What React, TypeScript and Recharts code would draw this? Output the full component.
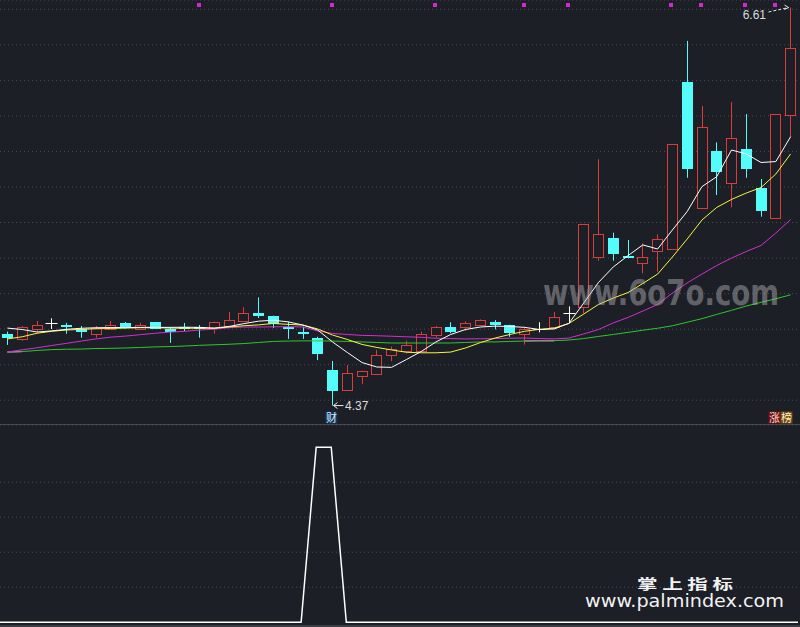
import { ComposedChart, Bar, Line, Scatter, XAxis, YAxis, CartesianGrid } from 'recharts'

// daily candles
const opens = [
  4.773, 4.743, 4.799, 4.833, 4.825, 4.799, 4.771, 4.802, 4.836, 4.799,
  4.840, 4.802, 4.810, 4.812, 4.805, 4.820, 4.848, 4.891, 4.876, 4.810,
  4.786, 4.748, 4.570, 4.458, 4.538, 4.547, 4.656, 4.677, 4.679, 4.767,
  4.812, 4.810, 4.822, 4.839, 4.825, 4.771, 4.801, 4.814, 4.889, 4.923,
  5.208, 5.311, 5.212, 5.170, 5.241, 5.249, 6.191, 5.480, 5.801, 5.621,
  5.814, 5.593, 5.424, 6.003,
]
const highs = [
  4.786, 4.818, 4.846, 4.861, 4.835, 4.818, 4.818, 4.846, 4.840, 4.836,
  4.840, 4.806, 4.835, 4.823, 4.842, 4.897, 4.923, 4.979, 4.876, 4.842,
  4.814, 4.757, 4.621, 4.598, 4.566, 4.684, 4.702, 4.735, 4.786, 4.818,
  4.839, 4.844, 4.855, 4.851, 4.825, 4.814, 4.839, 4.897, 4.928, 5.390,
  5.756, 5.343, 5.302, 5.283, 5.334, 5.840, 6.422, 6.056, 5.851, 6.078,
  6.010, 5.645, 6.009, 6.610,
]
const lows = [
  4.711, 4.735, 4.786, 4.801, 4.774, 4.752, 4.752, 4.795, 4.802, 4.799,
  4.801, 4.723, 4.788, 4.752, 4.774, 4.820, 4.848, 4.863, 4.806, 4.745,
  4.745, 4.626, 4.370, 4.458, 4.490, 4.547, 4.620, 4.663, 4.679, 4.752,
  4.777, 4.790, 4.822, 4.799, 4.757, 4.713, 4.782, 4.799, 4.833, 4.889,
  5.185, 5.185, 5.199, 5.114, 5.123, 5.249, 5.652, 5.480, 5.555, 5.486,
  5.652, 5.433, 5.424, 5.880,
]
const closes = [
  4.748, 4.810, 4.823, 4.833, 4.814, 4.786, 4.808, 4.823, 4.808, 4.821,
  4.801, 4.786, 4.801, 4.802, 4.839, 4.850, 4.890, 4.876, 4.829, 4.799,
  4.777, 4.661, 4.454, 4.551, 4.566, 4.656, 4.689, 4.711, 4.771, 4.814,
  4.786, 4.833, 4.851, 4.823, 4.777, 4.801, 4.801, 4.871, 4.889, 5.390,
  5.334, 5.223, 5.199, 5.208, 5.309, 5.840, 5.703, 5.939, 5.686, 5.874,
  5.703, 5.466, 6.009, 6.380,
]

// moving averages as drawn
const ma5 = [
  4.806, 4.798, 4.784, 4.790, 4.799, 4.805, 4.808, 4.809, 4.809, 4.810,
  4.810, 4.810, 4.811, 4.810, 4.806, 4.815, 4.831, 4.845, 4.850, 4.841,
  4.823, 4.795, 4.728, 4.669, 4.612, 4.587, 4.585, 4.629, 4.674, 4.728,
  4.770, 4.798, 4.812, 4.817, 4.815, 4.810, 4.798, 4.801, 4.833, 4.947,
  5.063, 5.150, 5.214, 5.274, 5.251, 5.358, 5.462, 5.602, 5.658, 5.808,
  5.786, 5.738, 5.743, 5.883,
]
const ma10 = [
  4.745, 4.757, 4.777, 4.788, 4.795, 4.799, 4.802, 4.804, 4.806, 4.808,
  4.808, 4.806, 4.805, 4.805, 4.805, 4.812, 4.819, 4.824, 4.832, 4.827,
  4.823, 4.801, 4.767, 4.742, 4.714, 4.697, 4.683, 4.670, 4.667, 4.667,
  4.671, 4.694, 4.724, 4.750, 4.770, 4.788, 4.799, 4.806, 4.832, 4.885,
  4.939, 4.975, 5.006, 5.057, 5.110, 5.206, 5.307, 5.414, 5.485, 5.530,
  5.566, 5.597, 5.673, 5.786,
]
const ma20 = [
  4.671, 4.684, 4.695, 4.708, 4.720, 4.733, 4.745, 4.755, 4.761, 4.769,
  4.777, 4.783, 4.788, 4.795, 4.800, 4.808, 4.812, 4.812, 4.813, 4.814,
  4.812, 4.790, 4.776, 4.770, 4.765, 4.763, 4.760, 4.757, 4.754, 4.749,
  4.747, 4.745, 4.746, 4.747, 4.749, 4.750, 4.747, 4.745, 4.750, 4.773,
  4.798, 4.835, 4.866, 4.902, 4.939, 5.003, 5.060, 5.110, 5.158, 5.200,
  5.237, 5.271, 5.341, 5.417,
]
const ma60 = [
  4.671, 4.674, 4.680, 4.685, 4.687, 4.688, 4.691, 4.692, 4.694, 4.697,
  4.700, 4.702, 4.705, 4.709, 4.712, 4.715, 4.719, 4.725, 4.731, 4.733,
  4.734, 4.734, 4.733, 4.731, 4.728, 4.725, 4.722, 4.722, 4.722, 4.722,
  4.722, 4.725, 4.728, 4.728, 4.731, 4.733, 4.735, 4.735, 4.739, 4.747,
  4.759, 4.770, 4.782, 4.794, 4.805, 4.819, 4.839, 4.859, 4.883, 4.906,
  4.930, 4.951, 4.971, 4.993,
]
// short grey stretches lying over the long average
const greyDays = [0, 1, 35, 36, 37]
// days carrying the magenta marker along the top
const signalDays = [13, 22, 29, 35, 38, 45, 47, 50, 52]
// lower panel signal
const indicator = [
  0, 0, 0, 0, 0, 0, 0, 0, 0, 0,
  0, 0, 0, 0, 0, 0, 0, 0, 0, 0,
  0, 1, 1, 0, 0, 0, 0, 0, 0, 0,
  0, 0, 0, 0, 0, 0, 0, 0, 0, 0,
  0, 0, 0, 0, 0, 0, 0, 0, 0, 0,
  0, 0, 0, 0,
]
const priceTicks = [4.4, 4.6, 4.8, 5.0, 5.2, 5.4, 5.6, 5.8, 6.0, 6.2, 6.4, 6.6]
const indicatorTicks = [0.2, 0.4, 0.6, 0.8]

const badges = [
  { day: 22, align: 'center', items: [{ text: '财', bg: '#123659', fg: '#d6eaff' }] },
  {
    day: 53,
    align: 'end',
    items: [
      { text: '涨', bg: '#6c1111', fg: '#ffd8d8' },
      { text: '榜', bg: '#6e4813', fg: '#ffecc8' },
    ],
  },
]

const BG = '#1d1f26'
const RED = '#d83c3c'
const CYAN = '#55fcfc'
const GRID = '#4a4d55'
const PRICE_H = 425
const IND_H = 202
const PRICE_DOMAIN: [number, number] = [4.2606, 6.6523]
const IND_DOMAIN: [number, number] = [-0.027, 1.127]
const SIGNAL_LEVEL = 6.6225
const FONT = '"Liberation Sans", "Noto Sans", sans-serif'
const CJK = '"Noto Sans CJK SC", sans-serif'

const days = opens.map((_, i) => i)
const maxDay = highs.indexOf(Math.max(...highs))
const minDay = lows.indexOf(Math.min(...lows))

const priceData = days.map((d, i) => ({
  day: d,
  open: opens[i],
  high: highs[i],
  low: lows[i],
  close: closes[i],
  ma5: ma5[i],
  ma10: ma10[i],
  ma20: ma20[i],
  ma60: ma60[i],
  grey: greyDays.includes(d) ? ma60[i] : null,
  sig: signalDays.includes(d) ? SIGNAL_LEVEL : null,
}))

const indicatorData = days.map((d, i) => ({ day: d, value: indicator[i] }))

function Candle(props: any) {
  const { x, y, width, height, payload } = props
  if (!payload || x == null || y == null) return <g />
  const { day, open, close, high, low } = payload
  const top = Math.min(y, y + height)
  const h = Math.abs(height)
  const py = (v: number) => top + ((high - v) / (high - low)) * h
  const cx = Math.floor(x + width / 2) + 0.5
  const yh = py(high)
  const yl = py(low)
  const yo = py(open)
  const yc = py(close)

  let body
  if (close > open) {
    const bt = Math.round(yc) + 0.5
    const bb = Math.round(yo) + 0.5
    body = (
      <g>
        <line x1={cx} x2={cx} y1={yh} y2={bt} stroke={RED} />
        <line x1={cx} x2={cx} y1={bb} y2={yl} stroke={RED} />
        <rect x={cx - 5} y={bt} width={10} height={Math.max(bb - bt, 1)} fill={BG} stroke={RED} />
      </g>
    )
  } else if (close < open) {
    const bt = Math.round(yo)
    const bb = Math.round(yc)
    body = (
      <g>
        <line x1={cx} x2={cx} y1={yh} y2={yl} stroke={CYAN} />
        <rect x={cx - 5.5} y={bt} width={11} height={Math.max(bb - bt, 2)} fill={CYAN} />
      </g>
    )
  } else {
    const by = Math.round(yo) + 0.5
    body = (
      <g>
        <line x1={cx} x2={cx} y1={yh} y2={yl} stroke="#ffffff" />
        <line x1={cx - 6} x2={cx + 6} y1={by} y2={by} stroke="#ffffff" />
      </g>
    )
  }

  const badge = badges.find((b) => b.day === day)
  let badgeEl = null
  if (badge) {
    const w = 12
    const total = w * badge.items.length
    const left = badge.align === 'end' ? cx + 2 - total : cx - 1 - total / 2
    const by = PRICE_H - 13.5
    badgeEl = (
      <g>
        {badge.items.map((it, k) => (
          <g key={k}>
            <rect x={left + k * w} y={by} width={w} height={12} fill={it.bg} />
            <text
              x={left + k * w + w / 2}
              y={by + 10}
              textAnchor="middle"
              fontSize={11}
              fontFamily={CJK}
              fill={it.fg}
            >
              {it.text}
            </text>
          </g>
        ))}
      </g>
    )
  }

  return (
    <g>
      {body}
      {day === maxDay && (
        <g>
          <text x={cx - 24.5} y={yh + 11} textAnchor="end" fontSize={12} fontFamily={FONT} fill="#dcdcdc">
            {high.toFixed(2)}
          </text>
          <line x1={cx - 22} y1={yh + 4.5} x2={cx - 2} y2={yh} stroke="#e8e8e8" strokeDasharray="3 2" />
          <polyline
            points={`${cx - 6},${yh - 2.5} ${cx - 2},${yh} ${cx - 6},${yh + 2}`}
            fill="none"
            stroke="#e8e8e8"
          />
        </g>
      )}
      {day === minDay && (
        <g>
          <line x1={cx + 1} y1={yl} x2={cx + 11} y2={yl} stroke="#e8e8e8" />
          <polyline
            points={`${cx + 5},${yl - 3} ${cx + 1},${yl} ${cx + 5},${yl + 3}`}
            fill="none"
            stroke="#e8e8e8"
          />
          <text x={cx + 12.5} y={yl + 4.5} fontSize={12} fontFamily={FONT} fill="#dcdcdc">
            {low.toFixed(2)}
          </text>
        </g>
      )}
      {badgeEl}
    </g>
  )
}

function SignalMark(props: any) {
  const { cx, cy, payload } = props
  if (!payload || payload.sig == null || cx == null || cy == null) return <g />
  return <rect x={Math.round(cx) - 3} y={Math.round(cy) - 2} width={4} height={4} fill="#d426d4" />
}

export default function App() {
  return (
    <div style={{ position: 'absolute', left: 0, top: 0, width: 800, height: 627, background: BG, overflow: 'hidden' }}>
      <div style={{ position: 'absolute', left: 0, top: 0 }}>
        <ComposedChart width={800} height={PRICE_H} data={priceData} margin={{ top: 0, right: 2, bottom: 0, left: 0 }}>
          <CartesianGrid vertical={false} stroke={GRID} strokeDasharray="1 3" />
          <XAxis dataKey="day" hide />
          <YAxis domain={PRICE_DOMAIN} ticks={priceTicks} hide allowDataOverflow />
          <Bar
            dataKey={(d: any) => [d.low, d.high]}
            shape={(p: any) => <Candle {...p} />}
            activeBar={false}
            isAnimationActive={false}
          />
          <Line dataKey="ma60" stroke="#2cc82c" strokeWidth={1} dot={false} activeDot={false} isAnimationActive={false} />
          <Line dataKey="grey" stroke="#8c8c8c" strokeWidth={1.5} dot={false} activeDot={false} isAnimationActive={false} />
          <Line dataKey="ma20" stroke="#d22ed2" strokeWidth={1} dot={false} activeDot={false} isAnimationActive={false} />
          <Line dataKey="ma10" stroke="#f6f640" strokeWidth={1} dot={false} activeDot={false} isAnimationActive={false} />
          <Line dataKey="ma5" stroke="#ffffff" strokeWidth={1} dot={false} activeDot={false} isAnimationActive={false} />
          <Scatter dataKey="sig" shape={(p: any) => <SignalMark {...p} />} isAnimationActive={false} />
        </ComposedChart>
      </div>
      <div style={{ position: 'absolute', left: 0, top: PRICE_H - 1, width: 800, height: 1, background: '#474a52' }} />
      <div style={{ position: 'absolute', left: 0, top: PRICE_H }}>
        <ComposedChart width={800} height={IND_H} data={indicatorData} margin={{ top: 0, right: 2, bottom: 0, left: 0 }}>
          <CartesianGrid vertical={false} stroke={GRID} strokeDasharray="1 3" />
          <XAxis dataKey="day" hide />
          <YAxis domain={IND_DOMAIN} ticks={indicatorTicks} hide allowDataOverflow />
          <Line dataKey="value" stroke="#ffffff" strokeWidth={1.5} dot={false} activeDot={false} isAnimationActive={false} />
        </ComposedChart>
      </div>
      <div style={{ position: 'absolute', left: 0, top: 625, width: 800, height: 2, background: '#3a3d44' }} />
      <svg
        width={800}
        height={627}
        style={{ position: 'absolute', left: 0, top: 0, pointerEvents: 'none' }}
      >
        <text
          x={543}
          y={305}
          textLength={236}
          lengthAdjust="spacingAndGlyphs"
          fontSize={35}
          fontWeight="bold"
          fontFamily='"DejaVu Sans", sans-serif'
          fill="#b4b4b6"
          opacity={0.45}
        >
          www.6o7o.com
        </text>
        <text
          x={637}
          y={589}
          textLength={96}
          lengthAdjust="spacingAndGlyphs"
          fontSize={14}
          fontWeight="bold"
          fontFamily={CJK}
          fill="#f2f2f2"
        >
          掌 上 指 标
        </text>
        <text
          x={585}
          y={607}
          textLength={199}
          lengthAdjust="spacingAndGlyphs"
          fontSize={18}
          fontFamily='"DejaVu Sans", sans-serif'
          fill="#f2f2f2"
        >
          www.palmindex.com
        </text>
      </svg>
    </div>
  )
}
